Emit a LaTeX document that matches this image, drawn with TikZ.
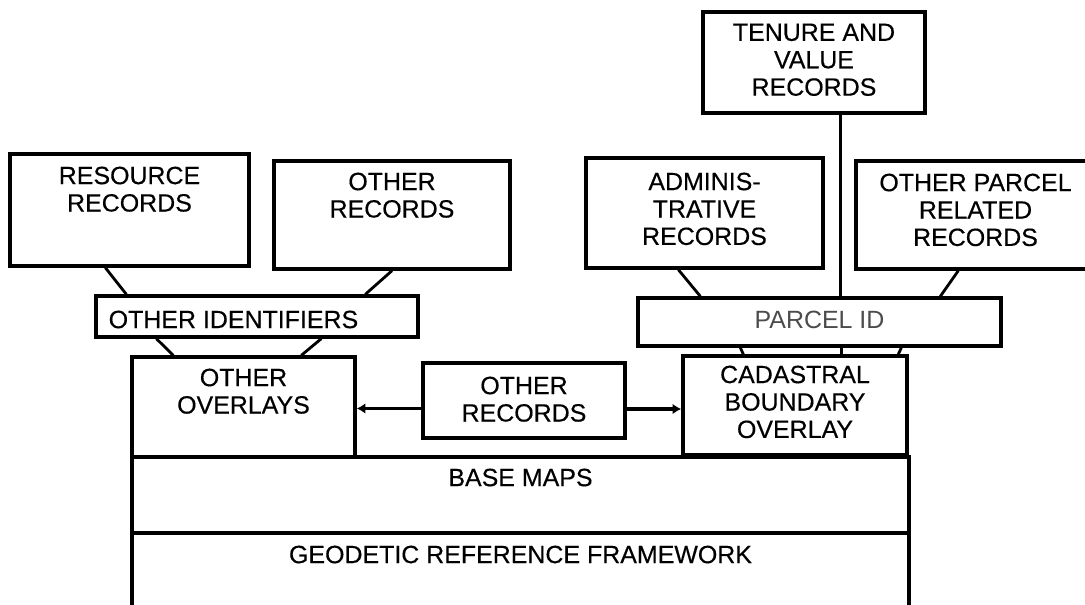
\documentclass[tikz,border=0pt]{standalone}
\usepackage{fontspec}
\setmainfont{Liberation Sans}
\newfontfamily\heavyfont{Liberation Sans}[FakeBold=0.35]
\usetikzlibrary{arrows.meta}
\begin{document}
\begin{tikzpicture}[x=0.02cm,y=-0.02cm,
  box/.style={draw, line width=1.9pt, inner sep=0pt, fill=white},
  lbl/.style={inner sep=0pt, anchor=north, align=center, font=\heavyfont\fontsize{14.2}{15.6}\selectfont},
  link/.style={line width=1.6pt},
  arr/.style={line width=2pt, -{Latex[length=5pt,width=6pt]}}
]
\useasboundingbox (0,0) rectangle (1085,605);
\clip (0,0) rectangle (1085,605);

% layers
\node[box, minimum width=15.54cm, minimum height=2.14cm] (geo) at (520.5,586.5) {};
\node[box, minimum width=15.54cm, minimum height=1.52cm] (base) at (520.5,495) {};
\node[box, minimum width=4.46cm, minimum height=2.0cm] (ovl) at (243.5,407) {};
\node[box, minimum width=4.04cm, minimum height=1.5cm] (mid) at (524,400.5) {};
\node[box, minimum width=4.48cm, minimum height=1.98cm] (cad) at (795,405.5) {};

% identifiers
\node[box, minimum width=6.44cm, minimum height=0.82cm] (oid) at (257,316.5) {};
\node[box, minimum width=7.26cm, minimum height=0.96cm] (pid) at (819.5,322) {};

% records
\node[box, minimum width=4.78cm, minimum height=2.24cm] (res) at (129.5,210) {};
\node[box, minimum width=4.72cm, minimum height=2.16cm] (orec) at (392,215) {};
\node[box, minimum width=4.44cm, minimum height=2.02cm] (ten) at (814,62.5) {};
\node[box, minimum width=4.74cm, minimum height=2.2cm] (adm) at (704.5,213) {};
\node[box, minimum width=4.78cm, minimum height=2.16cm] (opr) at (975.5,215) {};

% labels
\node[lbl] (geo-t) at ([yshift=-0.28cm]geo.north) {GEODETIC REFERENCE FRAMEWORK};
\node[lbl] (base-t) at ([yshift=-0.26cm]base.north) {BASE MAPS};
\node[lbl] (ovl-t) at ([yshift=-0.26cm]ovl.north) {OTHER\\OVERLAYS};
\node[lbl] (mid-t) at ([yshift=-0.30cm]mid.north) {OTHER\\RECORDS};
\node[lbl] (cad-t) at ([yshift=-0.22cm]cad.north) {CADASTRAL\\BOUNDARY\\OVERLAY};
\node[lbl, anchor=west] (oid-t) at ([xshift=0.28cm,yshift=-0.06cm]oid.west) {OTHER IDENTIFIERS};
\node[lbl, anchor=center, text=black!70, font=\normalfont\fontsize{14.2}{15.6}\selectfont] (pid-t) at ([yshift=0.04cm]pid.center) {PARCEL ID};
\node[lbl] (res-t) at ([yshift=-0.28cm]res.north) {RESOURCE\\RECORDS};
\node[lbl] (orec-t) at ([yshift=-0.26cm]orec.north) {OTHER\\RECORDS};
\node[lbl] (ten-t) at ([yshift=-0.26cm]ten.north) {TENURE AND\\VALUE\\RECORDS};
\node[lbl] (adm-t) at ([yshift=-0.32cm]adm.north) {ADMINIS-\\TRATIVE\\RECORDS};
\node[lbl] (opr-t) at ([yshift=-0.28cm]opr.north) {OTHER PARCEL\\RELATED\\RECORDS};

% connectors
\draw[link] ([xshift=1.94cm]res.south west) -- ([xshift=0.64cm]oid.north west);
\draw[link] (orec.south) -- ([xshift=5.42cm]oid.north west);
\draw[link] ([xshift=1.24cm]oid.south west) -- ([xshift=0.86cm]ovl.north west);
\draw[link] ([xshift=4.54cm]oid.south west) -- ([xshift=3.42cm]ovl.north west);
\draw[link] ([xshift=1.88cm]adm.south west) -- ([xshift=1.28cm]pid.north west);
\draw[link] ([xshift=2.08cm]opr.south west) -- ([xshift=6.08cm]pid.north west);
\coordinate (tv) at ([xshift=2.78cm]ten.south west);
\draw[link] (tv) -- (tv |- pid.north);
\draw[link] ([xshift=2.08cm]pid.south west) -- ([xshift=1.24cm]cad.north west);
\coordinate (pc) at ([xshift=4.10cm]pid.south west);
\draw[link] (pc) -- (pc |- cad.north);
\draw[link] ([xshift=5.30cm]pid.south west) -- ([xshift=4.34cm]cad.north west);

% arrows
\coordinate (aL) at ([yshift=-0.16cm]mid.west);
\coordinate (aR) at ([yshift=-0.17cm]mid.east);
\draw[arr] (aL) -- (aL -| ovl.east);
\draw[arr] (aR) -- (aR -| cad.west);
\end{tikzpicture}
\end{document}
